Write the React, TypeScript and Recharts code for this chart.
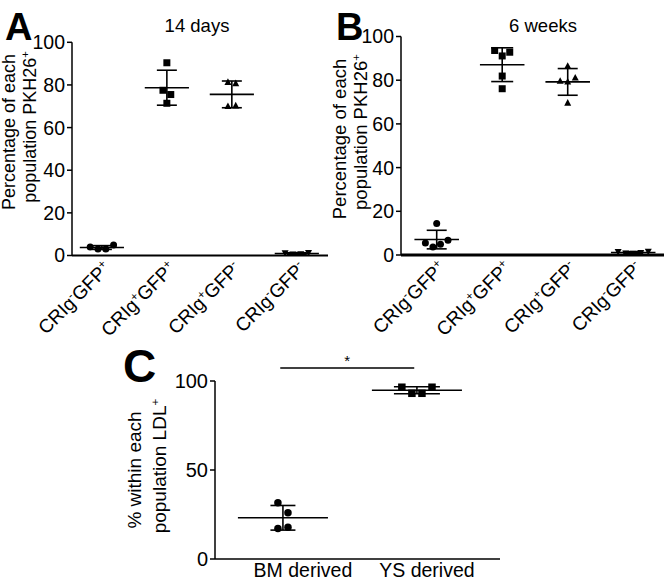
import React from "react";
import { ScatterChart, Scatter, XAxis, YAxis, ErrorBar, ReferenceLine } from "recharts";

const FONT = "'Liberation Sans', Arial, Helvetica, sans-serif";

// A / B categories
const categoriesAB = ["CRIg⁻GFP⁺", "CRIg⁺GFP⁺", "CRIg⁺GFP⁻", "CRIg⁻GFP⁻"];
const ticksAB = [0, 20, 40, 60, 80, 100];

// A: 14 days
const days14Group1 = [4.0, 3.0, 3.1, 4.9];
const days14Group2 = [90.4, 77.5, 75.5, 71.4];
const days14Group3 = [81.3, 80.7, 70.0, 70.3];
const days14Group4 = [1.2, 0.6, 0.7, 1.3];

// B: 6 weeks
const weeks6Group1 = [14.4, 5.5, 3.7, 4.9, 6.8];
const weeks6Group2 = [93.6, 91.1, 92.8, 81.9, 76.1];
const weeks6Group3 = [86.5, 79.6, 79.3, 81.1, 69.6];
const weeks6Group4 = [1.5, 0.8, 0.7, 1.0, 1.6];

// C: LDL uptake
const categoriesC = ["BM derived", "YS derived"];
const ticksC = [0, 50, 100];
const ldlBM = [31.6, 26.0, 17.2, 17.8];
const ldlYS = [96.5, 96.5, 93.1, 93.1];
const sigLevel = 107.3;

// horizontal spread of overlapping dots (in dot slots)
const spreadA = [[-1.5, -0.5, 0.5, 1.5], [0, -0.5, 0.5, 0], [-0.5, 0.5, -0.5, 0.5], [-1.5, -0.5, 0.5, 1.5]];
const spreadB = [[0, -1.5, -0.5, 0.5, 1.5], [-1, 0, 1, 0, 0], [0, -1, 0, 1, 0], [-2, -1, 0, 1, 2]];
const spreadC = [[-0.5, 0.5, -0.5, 0.5], [-1.5, 1.5, -0.5, 0.5]];

// panel geometry (page px)
const geoA = { left: 0, top: 0, width: 330, height: 345, plotLeft: 72, plotTop: 42.3, xAxisH: 89.5, right: 2, domain: [0.54, 4.48] as [number, number] };
const geoB = { left: 330, top: 0, width: 334, height: 345, plotLeft: 71, plotTop: 36.5, xAxisH: 90, right: 0, domain: [0.455, 4.47] as [number, number] };

type Marker = "circle" | "square" | "triangle" | "triangleDown";

const mean = (v: number[]) => v.reduce((s, a) => s + a, 0) / v.length;
const sd = (v: number[]) => {
  const m = mean(v);
  return Math.sqrt(v.reduce((s, a) => s + (a - m) ** 2, 0) / (v.length - 1));
};

function markerShape(kind: Marker, size: number) {
  return (props: any) => {
    const { cx, cy } = props;
    if (cx == null || cy == null) return <g />;
    const r = size / 2;
    if (kind === "circle") return <circle cx={cx} cy={cy} r={r} fill="#000" />;
    if (kind === "square") return <rect x={cx - r} y={cy - r} width={size} height={size} fill="#000" />;
    if (kind === "triangle")
      return <polygon points={`${cx},${cy - r * 1.1} ${cx + r},${cy + r * 0.8} ${cx - r},${cy + r * 0.8}`} fill="#000" />;
    return <polygon points={`${cx - r},${cy - r * 0.8} ${cx + r},${cy - r * 0.8} ${cx},${cy + r * 1.1}`} fill="#000" />;
  };
}

const SUP: Record<string, string> = { "⁺": "+", "⁻": "-" };
function superscriptRuns(text: string, size: number) {
  const runs: { t: string; sup: boolean }[] = [];
  for (const ch of text) {
    const sup = ch in SUP;
    const c = sup ? SUP[ch] : ch;
    const last = runs[runs.length - 1];
    if (last && last.sup === sup) last.t += c;
    else runs.push({ t: c, sup });
  }
  const rise = size * 0.38;
  let raised = false;
  return runs.map((r, i) => {
    const dy = r.sup && !raised ? -rise : !r.sup && raised ? rise : 0;
    raised = r.sup;
    return (
      <tspan key={i} dy={dy} fontSize={r.sup ? size * 0.62 : size}>
        {r.t}
      </tspan>
    );
  });
}

// rotated category labels under A and B, placed at the axis' category positions
function CategoryLabels({ geo }: { geo: typeof geoA }) {
  const x0 = geo.left + geo.plotLeft;
  const x1 = geo.left + geo.width - geo.right;
  const axisY = geo.top + geo.height - geo.xAxisH;
  const [d0, d1] = geo.domain;
  return (
    <>
      {categoriesAB.map((c, i) => {
        const cx = x0 + ((i + 1 - d0) / (d1 - d0)) * (x1 - x0);
        return (
          <g key={c} transform={`translate(${cx + 10} ${axisY + 14}) rotate(-45)`}>
            <text x={0} y={0} textAnchor="end" fontSize={19}>
              {superscriptRuns(c, 19)}
            </text>
          </g>
        );
      })}
    </>
  );
}

const cLabelShift = [20, 10];
const plainTick = (props: any) => {
  const { x, y, payload } = props;
  const i = Math.round(payload.value) - 1;
  return (
    <text x={Number(x) + cLabelShift[i]} y={Number(y) + 18} textAnchor="middle" fontSize={19.5} fontFamily={FONT} fill="#000">
      {categoriesC[i]}
    </text>
  );
};

interface Group {
  values: number[];
  spread: number[];
  marker: Marker;
  cap: number;
}

interface PanelProps {
  left: number;
  top: number;
  width: number;
  height: number;
  margin: { top: number; right: number; bottom: number; left: number };
  yAxisWidth: number;
  xAxisHeight: number;
  xDomain: [number, number];
  xTicks: number[];
  yTicks: number[];
  groups: Group[];
  step: number;
  meanHalf: number;
  markerSize: number;
  xTick: any;
  xAxisStroke: number;
  tickFont: number;
  children?: React.ReactNode;
}

function DotPanel(p: PanelProps) {
  return (
    <div style={{ position: "absolute", left: p.left, top: p.top }}>
      <ScatterChart width={p.width} height={p.height} margin={p.margin}>
        <XAxis
          type="number"
          dataKey="x"
          domain={p.xDomain}
          allowDataOverflow
          ticks={p.xTicks}
          interval={0}
          tick={p.xTick}
          tickLine={false}
          tickSize={0}
          tickMargin={0}
          height={p.xAxisHeight}
          axisLine={{ stroke: "#000", strokeWidth: p.xAxisStroke }}
        />
        <YAxis
          type="number"
          dataKey="y"
          domain={[0, 100]}
          allowDataOverflow
          ticks={p.yTicks}
          interval={0}
          width={p.yAxisWidth}
          tickSize={5}
          tickMargin={2}
          tick={{ fill: "#000", fontSize: p.tickFont, fontFamily: FONT }}
          tickLine={{ stroke: "#000", strokeWidth: 1.5 }}
          axisLine={{ stroke: "#000", strokeWidth: 1.5 }}
        />
        {p.groups.map((g, gi) => (
          <Scatter
            key={`sum-${gi}`}
            data={[{ x: gi + 1, y: mean(g.values), sd: sd(g.values), half: p.meanHalf }]}
            shape={() => <g />}
            isAnimationActive={false}
          >
            <ErrorBar dataKey="sd" direction="y" width={g.cap} stroke="#000" strokeWidth={1.6} />
            <ErrorBar dataKey="half" direction="x" width={0} stroke="#000" strokeWidth={1.6} />
          </Scatter>
        ))}
        {p.groups.map((g, gi) => (
          <Scatter
            key={`pts-${gi}`}
            data={g.values.map((v, i) => ({ x: gi + 1 + g.spread[i] * p.step, y: v }))}
            shape={markerShape(g.marker, p.markerSize)}
            isAnimationActive={false}
          />
        ))}
        {p.children}
      </ScatterChart>
    </div>
  );
}

const markersAB: Marker[] = ["circle", "square", "triangle", "triangleDown"];

export default function App() {
  const groupsA: Group[] = [days14Group1, days14Group2, days14Group3, days14Group4].map((values, i) => ({
    values,
    spread: spreadA[i],
    marker: markersAB[i],
    cap: 10,
  }));
  const groupsB: Group[] = [weeks6Group1, weeks6Group2, weeks6Group3, weeks6Group4].map((values, i) => ({
    values,
    spread: spreadB[i],
    marker: markersAB[i],
    cap: i === 1 ? 11 : 10,
  }));
  const groupsC: Group[] = [
    { values: ldlBM, spread: spreadC[0], marker: "circle", cap: 12.5 },
    { values: ldlYS, spread: spreadC[1], marker: "square", cap: 23 },
  ];

  return (
    <div style={{ position: "absolute", left: 0, top: 0, width: 664, height: 584, background: "#fff" }}>
      <DotPanel
        left={geoA.left}
        top={geoA.top}
        width={geoA.width}
        height={geoA.height}
        margin={{ top: geoA.plotTop, right: geoA.right, bottom: 0, left: 0 }}
        yAxisWidth={geoA.plotLeft}
        xAxisHeight={geoA.xAxisH}
        xDomain={geoA.domain}
        xTicks={[1, 2, 3, 4]}
        yTicks={ticksAB}
        groups={groupsA}
        step={0.12}
        meanHalf={0.34}
        markerSize={7}
        xTick={false}
        xAxisStroke={1.8}
        tickFont={19.5}
      />
      <DotPanel
        left={geoB.left}
        top={geoB.top}
        width={geoB.width}
        height={geoB.height}
        margin={{ top: geoB.plotTop, right: geoB.right, bottom: 0, left: 0 }}
        yAxisWidth={geoB.plotLeft}
        xAxisHeight={geoB.xAxisH}
        xDomain={geoB.domain}
        xTicks={[1, 2, 3, 4]}
        yTicks={ticksAB}
        groups={groupsB}
        step={0.115}
        meanHalf={0.34}
        markerSize={7}
        xTick={false}
        xAxisStroke={3}
        tickFont={19.5}
      />
      <DotPanel
        left={100}
        top={330}
        width={400}
        height={254}
        margin={{ top: 51, right: 0, bottom: 0, left: 0 }}
        yAxisWidth={115}
        xAxisHeight={25}
        xDomain={[0.493, 2.62]}
        xTicks={[1, 2]}
        yTicks={ticksC}
        groups={groupsC}
        step={0.075}
        meanHalf={0.336}
        markerSize={7.5}
        xTick={plainTick}
        xAxisStroke={1.6}
        tickFont={20}
      >
        <ReferenceLine
          segment={[
            { x: 0.98, y: sigLevel },
            { x: 1.98, y: sigLevel },
          ]}
          ifOverflow="visible"
          stroke="#000"
          strokeWidth={1.5}
          label={{ value: "*", position: "top", offset: 2, fill: "#000", fontSize: 15, fontFamily: FONT }}
        />
      </DotPanel>

      <svg width={664} height={584} style={{ position: "absolute", left: 0, top: 0, pointerEvents: "none" }} fontFamily={FONT} fill="#000">
        <text x={5} y={40} fontSize={38} fontWeight="bold">A</text>
        <text x={336} y={40} fontSize={38} fontWeight="bold">B</text>
        <text x={123} y={382} fontSize={46} fontWeight="bold">C</text>

        <text x={197} y={32} fontSize={18.5} textAnchor="middle">14 days</text>
        <text x={543} y={32} fontSize={18.5} textAnchor="middle">6 weeks</text>

        <CategoryLabels geo={geoA} />
        <CategoryLabels geo={geoB} />

        <text transform="translate(15,132) rotate(-90)" fontSize={18} textAnchor="middle">Percentage of each</text>
        <text transform="translate(36,127) rotate(-90)" fontSize={18} textAnchor="middle">
          {superscriptRuns("population PKH26⁺", 18)}
        </text>
        <text transform="translate(346,139) rotate(-90)" fontSize={18.5} textAnchor="middle">Percentage of each</text>
        <text transform="translate(367,132) rotate(-90)" fontSize={18.5} textAnchor="middle">
          {superscriptRuns("population PKH26⁺", 18.5)}
        </text>
        <text transform="translate(141,470) rotate(-90)" fontSize={19} textAnchor="middle">% within each</text>
        <text transform="translate(166,466) rotate(-90)" fontSize={19} textAnchor="middle">
          {superscriptRuns("population LDL⁺", 19)}
        </text>
      </svg>
    </div>
  );
}
